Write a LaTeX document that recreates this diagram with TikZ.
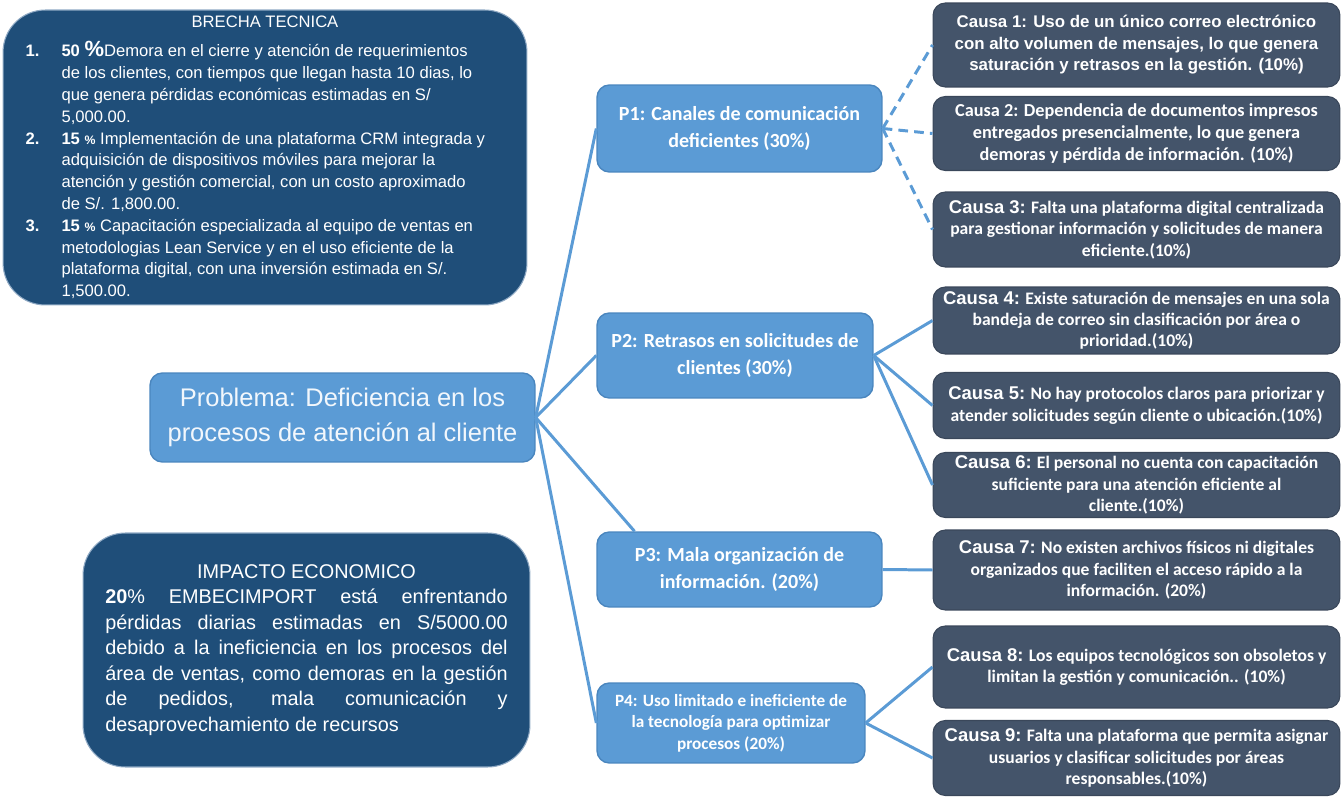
\documentclass[tikz,border=0pt]{standalone}
\usepackage{fontspec}
\setmainfont{Liberation Sans}
\newfontfamily\calibri{Carlito}
\definecolor{navy}{HTML}{1F4E79}
\definecolor{navyedge}{HTML}{8FA9C4}
\definecolor{pblue}{HTML}{5B9BD5}
\definecolor{pedge}{HTML}{4A86BE}
\definecolor{slate}{HTML}{44546A}
\newcommand{\chd}[1]{{\rmfamily\fontsize{10.5}{12.2}\selectfont #1}}

\begin{document}
\begin{tikzpicture}[x=0.02cm, y=-0.02cm,
    bigbox/.style={rounded corners=24pt, fill=navy, draw=navyedge, line width=0.6pt, text=white, inner sep=0pt},
    probbox/.style={rounded corners=7pt, fill=pblue, draw=pedge, line width=0.8pt, text=white!92!pblue, align=center, font=\fontsize{14.5}{19.5}\selectfont},
    pbox/.style={rounded corners=7pt, fill=pblue, draw=pedge, line width=0.8pt, text=white, align=center, font=\calibri\bfseries\fontsize{11.4}{15.3}\selectfont},
    causa/.style={rounded corners=7pt, fill=slate, draw=slate!85!black, line width=0.6pt, text=white, align=center, minimum width=8.14cm, inner sep=1pt, font=\calibri\bfseries\fontsize{10}{12.2}\selectfont},
    link/.style={draw=pblue, line width=1.7pt},
    dlink/.style={link, dash pattern=on 5.5pt off 3.5pt}]
    \useasboundingbox (0,0) rectangle (1343,797);

    % left boxes
    \node[bigbox, minimum width=10.48cm, minimum height=5.9cm, font=\fontsize{9.45}{12.4}\selectfont] (brecha) at (265,157.5) {%
      \begin{tabular}{@{}p{20.4pt}@{}l@{\hspace{11pt}}}
        \multicolumn{2}{c}{BRECHA TECNICA}\\[4.6pt]
        \textbf{1.} & \textbf{50 {\fontsize{12.5}{12.4}\selectfont\%}}Demora en el cierre y atención de requerimientos\\
         & de los clientes, con tiempos que llegan hasta 10 dias, lo\\
         & que genera pérdidas económicas estimadas en S/\\
         & 5,000.00.\\
        \textbf{2.} & \textbf{15 {\fontsize{7}{7}\selectfont\%}} Implementación de una plataforma CRM integrada y\\
         & adquisición de dispositivos móviles para mejorar la\\
         & atención y gestión comercial, con un costo aproximado\\
         & de S/. 1,800.00.\\
        \textbf{3.} & \textbf{15 {\fontsize{7}{7}\selectfont\%}} Capacitación especializada al equipo de ventas en\\
         & metodologias Lean Service y en el uso eficiente de la\\
         & plataforma digital, con una inversión estimada en S/.\\
         & 1,500.00.
      \end{tabular}};
    \node[bigbox, minimum width=8.94cm, minimum height=4.68cm, text width=229pt, align=justify, font=\fontsize{11.3}{14.5}\selectfont] (impacto) at (306.5,650) {%
      \makebox[\linewidth]{IMPACTO ECONOMICO}\par
      \textbf{20}\% EMBECIMPORT está enfrentando\linebreak
      pérdidas diarias estimadas en S/5000.00\linebreak
      debido a la ineficiencia en los procesos del\linebreak
      área de ventas, como demoras en la gestión\linebreak
      de pedidos, mala comunicación y\linebreak
      desaprovechamiento de recursos};
    \node[probbox, minimum width=7.7cm, minimum height=1.78cm] (problema) at (342.5,417.5) {Problema: Deficiencia en los\\procesos de atención al cliente};

    % problems
    \node[pbox, minimum width=5.7cm, minimum height=1.74cm] (p1) at (739.5,128.5) {P1: Canales de comunicación\\deficientes (30\%)};
    \node[pbox, minimum width=5.52cm, minimum height=1.7cm] (p2) at (735,355.5) {P2: Retrasos en solicitudes de\\clientes (30\%)};
    \node[pbox, minimum width=5.7cm, minimum height=1.5cm] (p3) at (739.5,569.5) {P3: Mala organización de\\información. (20\%)};
    \node[pbox, minimum width=5.36cm, minimum height=1.6cm, font=\calibri\bfseries\fontsize{9.8}{12.3}\selectfont] (p4) at (731,723) {P4: Uso limitado e ineficiente de\\la tecnología para optimizar\\procesos (20\%)};

    % causes
    \node[causa, minimum height=1.68cm, font=\rmfamily\bfseries\fontsize{9.6}{12.2}\selectfont] (c1) at (1136.5,45) {Causa 1: Uso de un único correo electrónico\\con alto volumen de mensajes, lo que genera\\saturación y retrasos en la gestión. (10\%)};
    \node[causa, minimum height=1.48cm, font=\calibri\bfseries\fontsize{10.4}{12.4}\selectfont] (c2) at (1136.5,133.5) {Causa 2: Dependencia de documentos impresos\\entregados presencialmente, lo que genera\\demoras y pérdida de información. (10\%)};
    \node[causa, minimum height=1.5cm] (c3) at (1136.5,229.5) {\chd{Causa 3:} Falta una plataforma digital centralizada\\para gestionar información y solicitudes de manera\\eficiente.(10\%)};
    \node[causa, minimum height=1.34cm] (c4) at (1136.5,320.5) {\chd{Causa 4:} Existe saturación de mensajes en una sola\\bandeja de correo sin clasificación por área o\\prioridad.(10\%)};
    \node[causa, minimum height=1.32cm] (c5) at (1136.5,405.5) {\chd{Causa 5:} No hay protocolos claros para priorizar y\\atender solicitudes según cliente o ubicación.(10\%)};
    \node[causa, minimum height=1.3cm] (c6) at (1136.5,485) {\chd{Causa 6:} El personal no cuenta con capacitación\\suficiente para una atención eficiente al\\cliente.(10\%)};
    \node[causa, minimum height=1.6cm] (c7) at (1136.5,570) {\chd{Causa 7:} No existen archivos físicos ni digitales\\organizados que faciliten el acceso rápido a la\\información. (20\%)};
    \node[causa, minimum height=1.64cm] (c8) at (1136.5,667) {\chd{Causa 8:} Los equipos tecnológicos son obsoletos y\\limitan la gestión y comunicación.. (10\%)};
    \node[causa, minimum height=1.5cm] (c9) at (1136.5,758) {\chd{Causa 9:} Falta una plataforma que permita asignar\\usuarios y clasificar solicitudes por áreas\\responsables.(10\%)};

    % links
    \draw[link] (problema.east) -- (p1.west);
    \draw[link] (problema.east) -- (p2.west);
    \draw[link] (problema.east) -- (p3.160);
    \draw[link] (problema.east) -- (p4.west);

    \draw[dlink] (p1.east) -- (c1.west);
    \draw[dlink] (p1.east) -- (c2.west);
    \draw[dlink] (p1.east) -- (c3.west);

    \draw[link] (p2.east) -- (c4.west);
    \draw[link] (p2.east) -- (c5.west);
    \draw[link] (p2.east) -- (c6.west);

    \draw[link] (p3.east) -- (c7.west);

    \draw[link] (p4.east) -- (c8.west);
    \draw[link] (p4.east) -- (c9.west);
\end{tikzpicture}
\end{document}
